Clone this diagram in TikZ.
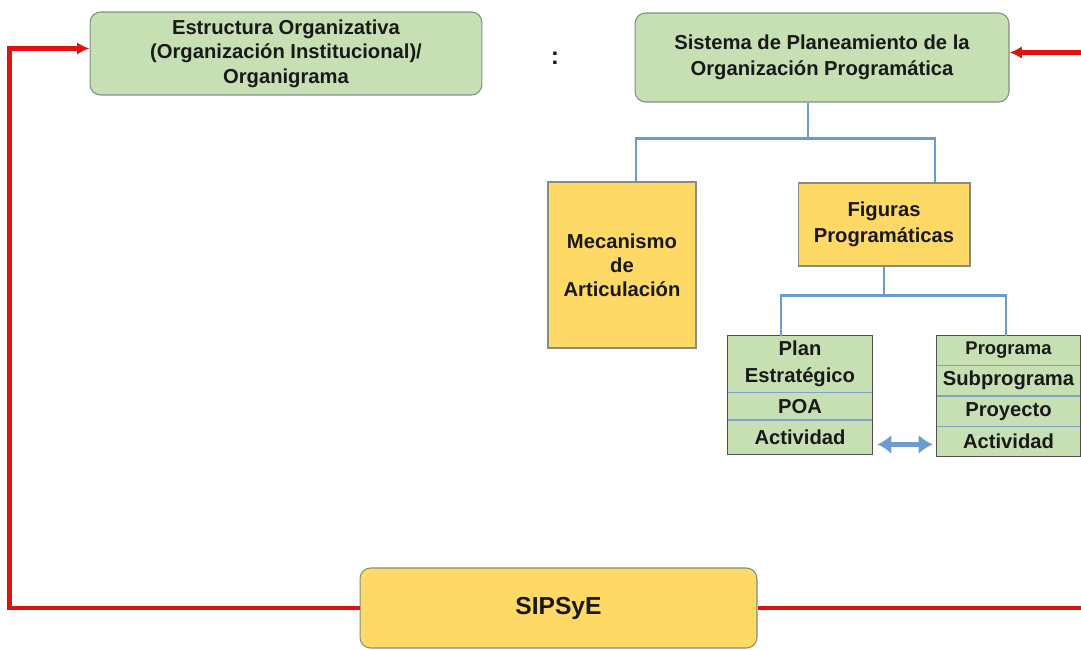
\documentclass[tikz,border=0pt]{standalone}
\usepackage{fontspec}
\setmainfont{Liberation Sans}
\usetikzlibrary{arrows.meta,positioning,calc}
\definecolor{boxgreen}{HTML}{C6E0B4}
\definecolor{boxyellow}{HTML}{FFD966}
\definecolor{edgegrey}{HTML}{7F8F80}
\definecolor{framegrey}{HTML}{505050}
\definecolor{treeblue}{HTML}{6B9BD0}
\definecolor{sepblue}{HTML}{7FA3C4}
\definecolor{linkred}{HTML}{E01212}

\begin{document}
\begin{tikzpicture}
  [x=0.02cm,y=-0.02cm,every node/.style={align=center,text=black!90,font=\bfseries\fontsize{11.5}{14}\selectfont}]
 \tikzset{greenbox/.style = {rectangle,rounded corners=6pt,draw=edgegrey,fill=boxgreen,line width=.6pt},
   yellowbox/.style = {rectangle,draw=edgegrey,fill=boxyellow,line width=.6pt},
   cell/.style = {rectangle,fill=boxgreen,minimum width=2.88cm,inner sep=0pt},
   frame/.style = {framegrey,line width=.8pt},
   sep/.style = {sepblue,line width=.7pt},
   tree/.style = {treeblue,line width=1.3pt},
   link/.style = {->,> = {Latex[length=7pt,width=7pt]},linkred,line width=2.3pt},
   dbl/.style = {<->,> = {Latex[length=8pt,width=11pt]},treeblue,line width=2.5pt}}
  \useasboundingbox (0,0) rectangle (1081,649);

  \node[greenbox,minimum width=7.84cm,minimum height=1.66cm,font=\bfseries\fontsize{11.5}{14}\selectfont] (org) at (286,53.5)
    {Estructura Organizativa\\(Organización Institucional)/\\Organigrama};
  \node[font=\bfseries\fontsize{14}{14}\selectfont] (colon) at (555,58) {:};
  \node[greenbox,minimum width=7.48cm,minimum height=1.78cm,font=\bfseries\fontsize{11.5}{14.7}\selectfont] (sis) at (822,57.5)
    {Sistema de Planeamiento de la\\Organización Programática};
  \node[yellowbox,minimum width=2.96cm,minimum height=3.32cm,font=\bfseries\fontsize{11.5}{13.6}\selectfont] (mec) at (622,265)
    {Mecanismo\\de\\Articulación};
  \node[yellowbox,minimum width=3.44cm,minimum height=1.66cm,font=\bfseries\fontsize{11.5}{14.7}\selectfont] (fig) at (884,224.5)
    {Figuras\\Programáticas};

  % plan side
  \node[cell,minimum height=1.12cm,font=\bfseries\fontsize{11.5}{15.3}\selectfont] (plan) at (800,364) {Plan\\Estratégico};
  \node[cell,minimum height=.54cm,below=0pt of plan] (poa) {POA};
  \node[cell,minimum height=.68cm,below=0pt of poa] (act) {Actividad};
  % programa side
  \node[cell,minimum width=2.86cm,minimum height=.58cm,font=\bfseries\fontsize{10.5}{12}\selectfont] (prog) at (1008.5,350.5) {Programa};
  \node[cell,minimum width=2.86cm,minimum height=.6cm,below=0pt of prog] (sub) {Subprograma};
  \node[cell,minimum width=2.86cm,minimum height=.6cm,below=0pt of sub] (proy) {Proyecto};
  \node[cell,minimum width=2.86cm,minimum height=.58cm,below=0pt of proy] (act2) {Actividad};

  \node[rectangle,rounded corners=6pt,draw=edgegrey,fill=boxyellow,line width=.6pt,
    minimum width=7.94cm,minimum height=1.6cm,font=\bfseries\fontsize{14}{14}\selectfont] (sip) at (558.5,608) {SIPSyE};

  \draw[frame] (plan.north west) rectangle (act.south east);
  \draw[frame] (prog.north west) rectangle (act2.south east);
  \foreach \c in {plan,poa,prog,sub,proy}
    \draw[sep] (\c.south west) -- (\c.south east);

  \foreach \to/\dx in {mec/.28cm,fig/1.02cm}
    \draw[tree] ([xshift=-.28cm]sis.south) -- ++(0,36) -| ([xshift=\dx]\to.north);
  \foreach \to/\dx in {plan/-.38cm,prog/-.05cm}
    \draw[tree] (fig.south) -- ++(0,29) -| ([xshift=\dx]\to.north);

  \draw[dbl] ($(act.east)+(5,7)$) -- ($(act.east -| act2.west)+(-4,7)$);

  \draw[link] (sip.west) -- ++(-350,0) |- ([yshift=.1cm]org.west);
  \draw[link] (sip.east) -- ++(340,0) |- ([yshift=.1cm]sis.east);

\end{tikzpicture}
\end{document}
